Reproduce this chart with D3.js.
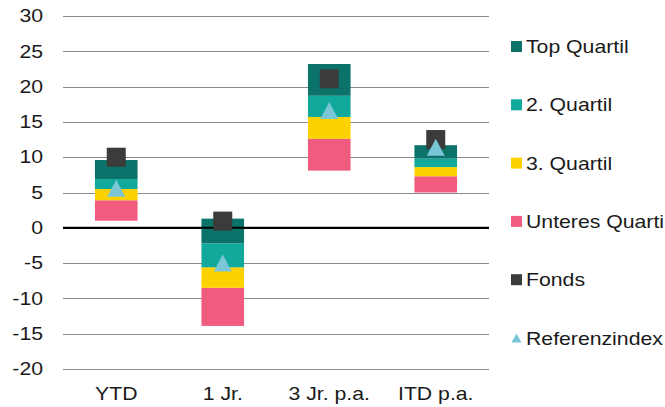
<!DOCTYPE html>
<html><head><meta charset="utf-8">
<script src="https://cdn.jsdelivr.net/npm/d3@7/dist/d3.min.js"></script>
<style>
html,body{margin:0;padding:0;background:#fff;}
text{font-family:"Liberation Sans",Arial,sans-serif;fill:#1a1a1a;}
</style></head>
<body>
<svg id="chart" width="665" height="407"></svg>
<script>
const categories = ["YTD", "1 Jr.", "3 Jr. p.a.", "ITD p.a."];
const minValues    = [1.0, -13.9, 8.1, 5.0];
const p25Values    = [3.9, -8.5, 12.6, 7.3];
const medianValues = [5.5, -5.6, 15.7, 8.6];
const p75Values    = [6.9, -2.2, 18.7, 9.8];
const maxValues    = [9.6, 1.3, 23.2, 11.7];
const fondsValues  = [10.0, 0.95, 21.1, 12.5];
const referenzValues = [5.6, -5.0, 16.6, 11.4];
const yTicks = [-20, -15, -10, -5, 0, 5, 10, 15, 20, 25, 30];
const legendLabels = ["Top Quartil", "2. Quartil", "3. Quartil", "Unteres Quarti", "Fonds", "Referenzindex"];
const colors = {top:"#0b7369", q2:"#10a99c", q3:"#fed100", low:"#f05b7f", fonds:"#3b3b39", ref:"#7ac6d7"};
const SX = 1.18;

const svg = d3.select("#chart");
const y = d3.scaleLinear().domain([-20, 30]).range([369, 16]);
const x = d3.scaleBand().domain(categories).range([63, 489]).padding(0);
const barW = x.bandwidth() * 0.4;

// grid
const yAxis = d3.axisLeft(y).tickValues(yTicks).tickSize(-(489 - 63)).tickPadding(20).tickFormat(d => String(d));
const gy = svg.append("g").attr("transform", "translate(63,0)").call(yAxis);
gy.select(".domain").remove();
gy.selectAll(".tick line").attr("stroke", "#8a8a8a").attr("stroke-width", 1)
  .attr("shape-rendering", "crispEdges");
gy.selectAll(".tick text").attr("font-size", 18).attr("fill", "#1a1a1a")
  .attr("font-family", '"Liberation Sans",Arial,sans-serif')
  .attr("x", 0).attr("transform", `translate(-20,0) scale(${SX},1)`);
gy.selectAll(".tick").filter(d => d === 0).select("line").attr("stroke", "#000").attr("stroke-width", 2);

// stacked segments
const series = [
  {key:"low", lo:minValues, hi:p25Values},
  {key:"q3", lo:p25Values, hi:medianValues},
  {key:"q2", lo:medianValues, hi:p75Values},
  {key:"top", lo:p75Values, hi:maxValues}
];
const gBars = svg.append("g");
series.forEach(s => {
  gBars.selectAll(null).data(categories).enter().append("rect")
    .attr("x", d => x(d) + x.bandwidth()/2 - barW/2)
    .attr("width", barW)
    .attr("y", (d,i) => y(s.hi[i]))
    .attr("height", (d,i) => y(s.lo[i]) - y(s.hi[i]))
    .attr("fill", colors[s.key]);
});
// zero line above bars
svg.append("line").attr("x1", 63).attr("x2", 489).attr("y1", y(0)).attr("y2", y(0))
  .attr("stroke", "#000").attr("stroke-width", 2);

// fonds squares
const sq = 19;
svg.append("g").selectAll("rect").data(categories).enter().append("rect")
  .attr("x", d => x(d) + x.bandwidth()/2 - sq/2)
  .attr("y", (d,i) => y(fondsValues[i]) - sq/2)
  .attr("width", sq).attr("height", sq).attr("fill", colors.fonds);

// referenz triangles (bbox centered)
function tri(cx, cy, w, h) {
  return `M${cx},${cy - h/2}L${cx + w/2},${cy + h/2}L${cx - w/2},${cy + h/2}Z`;
}
svg.append("g").selectAll("path").data(categories).enter().append("path")
  .attr("d", (d,i) => tri(x(d) + x.bandwidth()/2, y(referenzValues[i]), 18, 17))
  .attr("fill", colors.ref);

// x labels
svg.append("g").selectAll("text").data(categories).enter().append("text")
  .attr("transform", d => `translate(${x(d) + x.bandwidth()/2},400) scale(${SX},1)`)
  .attr("text-anchor", "middle").attr("font-size", 18).text(d => d);

// legend
const legendKeys = ["top", "q2", "q3", "low", "fonds", "ref"];
const lg = svg.append("g");
legendLabels.forEach((lab, i) => {
  const cy = 46.5 + i * 58.3;
  if (legendKeys[i] === "ref") {
    lg.append("path").attr("d", tri(516.5, cy, 10, 9)).attr("fill", colors.ref);
  } else {
    lg.append("rect").attr("x", 511).attr("y", cy - 5.5).attr("width", 11).attr("height", 11)
      .attr("fill", colors[legendKeys[i]]);
  }
  lg.append("text").attr("transform", `translate(526,${cy + 6.5}) scale(${SX},1)`)
    .attr("font-size", 18).text(lab);
});
</script>
</body></html>
